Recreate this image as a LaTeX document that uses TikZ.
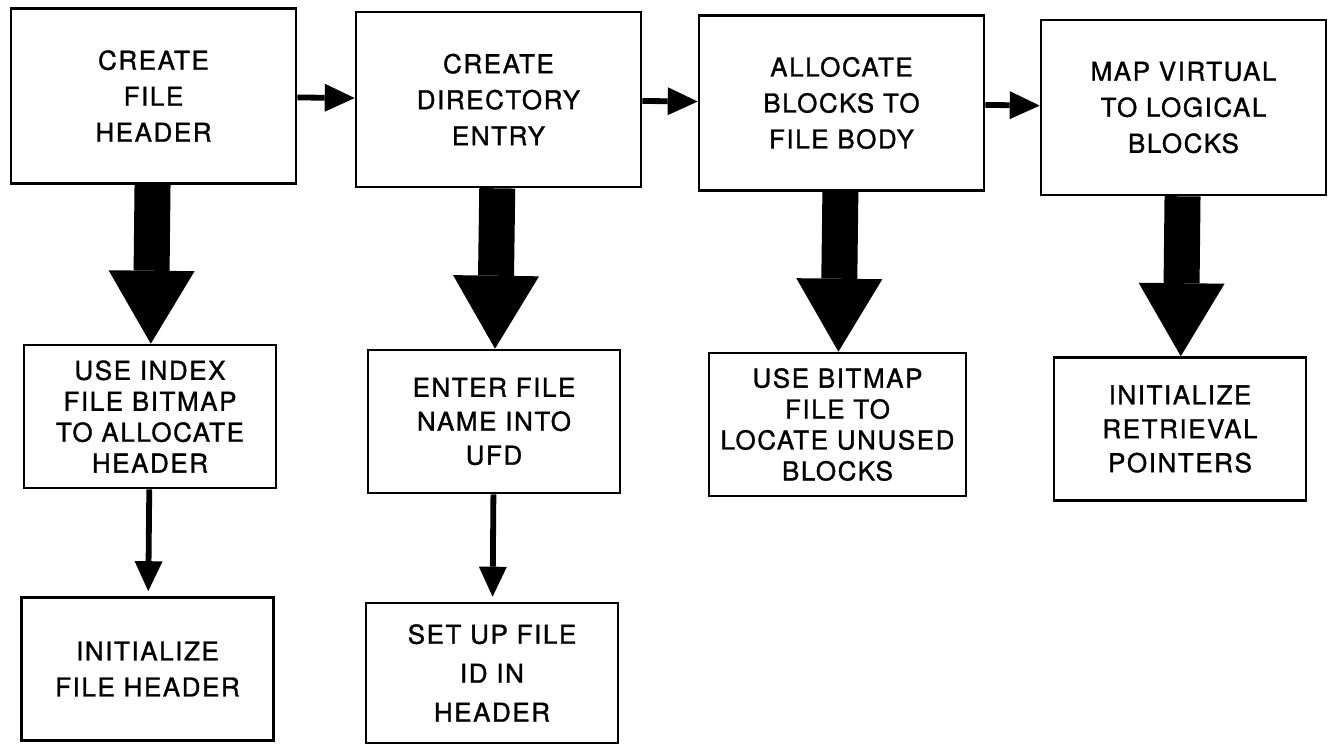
\documentclass[tikz,border=0pt]{standalone}
\usepackage{fontspec}
\setmainfont{TeX Gyre Heros}[LetterSpace=6, FakeBold=1.2]
\usetikzlibrary{arrows.meta}
\tikzset{
  every picture/.style={line width=1.5pt},
  box/.style={draw, align=center, inner sep=2pt, font=\fontsize{14.8}{#1}\selectfont},
  box/.default=20.5,
  topbox/.style={box, minimum width=5.7cm, minimum height=3.5cm},
  subbox/.style={box=#1, minimum width=5.04cm, minimum height=2.86cm},
  subbox/.default=20.5,
  link/.style={line width=3.3pt, -{Triangle[length=0.6cm, width=0.56cm, line width=0pt]}},
  bigarrow/.style={line width=0.72cm, -{Triangle[length=1.46cm, width=1.72cm, line width=0pt]}},
}
\begin{document}
\begin{tikzpicture}[x=0.02cm, y=-0.02cm]
  \useasboundingbox (0,0) rectangle (1330,744);
  % main steps
  \node[topbox] (create) at (153.5,96) {CREATE\\FILE\\HEADER};
  \node[topbox] (direntry) at (498.5,99.5) {CREATE\\DIRECTORY\\ENTRY};
  \node[topbox] (allocate) at (841.5,103) {ALLOCATE\\BLOCKS TO\\FILE BODY};
  \node[topbox] (mapvirt) at (1183.5,107.5) {MAP VIRTUAL\\TO LOGICAL\\BLOCKS};
  % details
  \node[subbox=17.6] (indexbm) at (150,416.5) {USE INDEX\\FILE BITMAP\\TO ALLOCATE\\HEADER};
  \node[subbox=19.3] (ufd) at (494,421.5) {ENTER FILE\\NAME INTO\\UFD};
  \node[subbox=17.6, minimum width=5.14cm] (bitmap) at (837.5,424.5) {USE BITMAP\\FILE TO\\LOCATE UNUSED\\BLOCKS};
  \node[subbox=19.3] (retr) at (1180,429) {INITIALIZE\\RETRIEVAL\\POINTERS};
  \node[subbox] (inithdr) at (147.5,669) {INITIALIZE\\FILE HEADER};
  \node[subbox=22.2, minimum height=2.8cm] (fileid) at (492,673) {SET UP FILE\\ID IN\\HEADER};
  % connectors
  \draw[link] (create) -- (direntry);
  \draw[link] (direntry) -- (allocate);
  \draw[link] (allocate) -- (mapvirt);
  \draw[bigarrow] (create) -- (indexbm);
  \draw[bigarrow] (direntry) -- (ufd);
  \draw[bigarrow] (allocate) -- (bitmap);
  \draw[bigarrow] (mapvirt) -- (retr);
  \draw[link, shorten >=0.1cm] (indexbm) -- (inithdr);
  \draw[link, shorten >=0.1cm] (ufd) -- (fileid);
\end{tikzpicture}
\end{document}
